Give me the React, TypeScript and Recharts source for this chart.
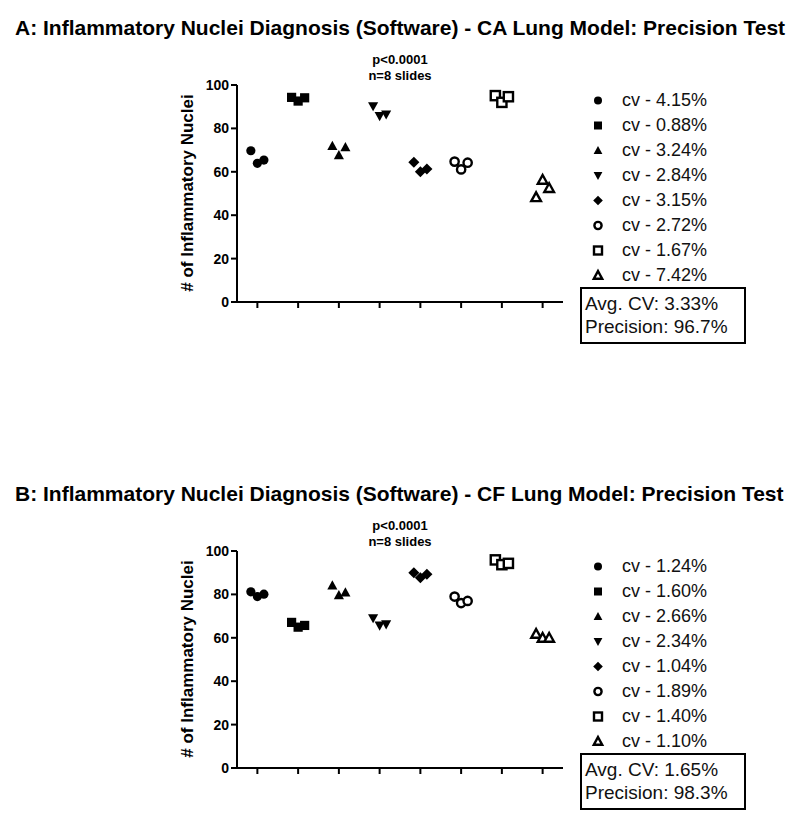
import React from 'react';
import { ScatterChart, Scatter, XAxis, YAxis } from 'recharts';

// marker order, one per sample group
const markerKinds = ['circle', 'square', 'triangle', 'triangleDown', 'diamond', 'openCircle', 'openSquare', 'openTriangle'];

// horizontal jitter of the three replicate reads within a group (category units)
const jitter = [-0.16, 0, 0.16];

// CA lung model: 3 reads per slide
const caValues = [
  [69.7, 63.9, 65.4],
  [94.3, 92.6, 94.1],
  [71.9, 67.6, 71.3],
  [90.3, 85.7, 86.5],
  [64.4, 60.0, 61.3],
  [64.7, 61.1, 64.2],
  [95.1, 92.0, 94.6],
  [48.2, 56.2, 52.4],
];
const caCv = ['4.15%', '0.88%', '3.24%', '2.84%', '3.15%', '2.72%', '1.67%', '7.42%'];
const caSummary = ['Avg. CV: 3.33%', 'Precision: 96.7%'];

// CF lung model
const cfValues = [
  [81.2, 79.0, 80.1],
  [67.1, 64.9, 65.7],
  [84.1, 79.6, 80.8],
  [69.1, 65.7, 66.3],
  [90.0, 87.7, 89.3],
  [79.0, 76.0, 77.0],
  [95.9, 93.7, 94.3],
  [61.7, 59.9, 59.9],
];
const cfCv = ['1.24%', '1.60%', '2.66%', '2.34%', '1.04%', '1.89%', '1.40%', '1.10%'];
const cfSummary = ['Avg. CV: 1.65%', 'Precision: 98.3%'];

const yTicks = [0, 20, 40, 60, 80, 100];
const xTicks = [1, 2, 3, 4, 5, 6, 7, 8];

const FONT = '"Liberation Sans", Arial, sans-serif';

function Marker({ kind, cx, cy, r = 4.6 }: { kind: string; cx: number; cy: number; r?: number }) {
  const sw = 2.4;
  switch (kind) {
    case 'circle':
      return <circle cx={cx} cy={cy} r={r} fill="#000" />;
    case 'square':
      return <rect x={cx - r} y={cy - r} width={r * 2} height={r * 2} fill="#000" />;
    case 'triangle':
      return (
        <polygon
          points={`${cx},${cy - r * 1.15} ${cx + r * 1.1},${cy + r * 0.85} ${cx - r * 1.1},${cy + r * 0.85}`}
          fill="#000"
        />
      );
    case 'triangleDown':
      return (
        <polygon
          points={`${cx},${cy + r * 1.15} ${cx + r * 1.1},${cy - r * 0.85} ${cx - r * 1.1},${cy - r * 0.85}`}
          fill="#000"
        />
      );
    case 'diamond':
      return (
        <polygon
          points={`${cx},${cy - r * 1.2} ${cx + r * 1.2},${cy} ${cx},${cy + r * 1.2} ${cx - r * 1.2},${cy}`}
          fill="#000"
        />
      );
    case 'openCircle':
      return <circle cx={cx} cy={cy} r={r * 0.9} fill="#fff" stroke="#000" strokeWidth={sw} />;
    case 'openSquare':
      return <rect x={cx - r} y={cy - r} width={r * 2} height={r * 2} fill="#fff" stroke="#000" strokeWidth={sw} />;
    case 'openTriangle':
      return (
        <polygon
          points={`${cx},${cy - r * 1.1} ${cx + r * 1.05},${cy + r * 0.8} ${cx - r * 1.05},${cy + r * 0.8}`}
          fill="#fff"
          stroke="#000"
          strokeWidth={sw}
          strokeLinejoin="miter"
        />
      );
    default:
      return null;
  }
}

function Panel({ top, title, values, cvs, summary }: { top: number; title: string; values: number[][]; cvs: string[]; summary: string[] }) {
  return (
    <div style={{ position: 'absolute', left: 0, top, width: 800, height: 466 }}>
      <div
        style={{
          position: 'absolute', left: 15, top: 17, fontSize: 21, lineHeight: 1,
          fontWeight: 700, fontFamily: FONT, whiteSpace: 'nowrap', color: '#000',
        }}
      >
        {title}
      </div>
      <div
        style={{
          position: 'absolute', left: 300, width: 200, top: 52, fontSize: 13, lineHeight: '16px',
          fontWeight: 700, fontFamily: FONT, textAlign: 'center', color: '#000',
        }}
      >
        <div>p&lt;0.0001</div>
        <div>n=8 slides</div>
      </div>
      <div
        style={{
          position: 'absolute', left: 188, top: 193, transform: 'translate(-50%, -50%) rotate(-90deg)',
          fontSize: 17, fontWeight: 700, fontFamily: FONT, whiteSpace: 'nowrap', color: '#000',
        }}
      >
        # of Inflammatory Nuclei
      </div>
      <div style={{ position: 'absolute', left: 0, top: 0 }}>
        <ScatterChart width={800} height={340} margin={{ top: 85, right: 237, bottom: 8, left: 177 }}>
          <XAxis
            type="number"
            dataKey="x"
            domain={[0.5, 8.5]}
            ticks={xTicks}
            tickFormatter={() => ''}
            tickSize={6}
            height={30}
            axisLine={{ stroke: '#000', strokeWidth: 2 }}
            tickLine={{ stroke: '#000', strokeWidth: 2 }}
            allowDataOverflow
          />
          <YAxis
            type="number"
            dataKey="y"
            domain={[0, 100]}
            ticks={yTicks}
            tickSize={6}
            width={60}
            axisLine={{ stroke: '#000', strokeWidth: 2 }}
            tickLine={{ stroke: '#000', strokeWidth: 2 }}
            tick={{ fill: '#000', fontSize: 14, fontWeight: 700, fontFamily: FONT }}
          />
          {values.map((group, i) => (
            <Scatter
              key={i}
              data={group.map((v, j) => ({ x: i + 1 + jitter[j], y: v }))}
              isAnimationActive={false}
              shape={(p: any) => <Marker kind={markerKinds[i]} cx={p.cx} cy={p.cy} />}
            />
          ))}
        </ScatterChart>
      </div>
      {cvs.map((cv, i) => (
        <div
          key={i}
          style={{
            position: 'absolute', left: 586, top: 88 + i * 25, height: 25, display: 'flex',
            alignItems: 'center', fontFamily: FONT, fontSize: 18, lineHeight: '25px', color: '#111',
          }}
        >
          <svg width={24} height={25} style={{ marginRight: 12 }}>
            <Marker kind={markerKinds[i]} cx={12} cy={12.5} r={4} />
          </svg>
          <span>cv - {cv}</span>
        </div>
      ))}
      <div
        style={{
          position: 'absolute', left: 580, top: 287, width: 159, height: 50, border: '2px solid #000',
          fontFamily: FONT, fontSize: 19, lineHeight: '23px', color: '#111', paddingLeft: 3, paddingTop: 3,
          boxSizing: 'content-box', whiteSpace: 'nowrap',
        }}
      >
        <div>{summary[0]}</div>
        <div>{summary[1]}</div>
      </div>
    </div>
  );
}

export default function App() {
  return (
    <div style={{ position: 'absolute', left: 0, top: 0, width: 800, height: 831, background: '#fff', overflow: 'hidden' }}>
      <Panel
        top={0}
        title="A: Inflammatory Nuclei Diagnosis (Software) - CA Lung Model: Precision Test"
        values={caValues}
        cvs={caCv}
        summary={caSummary}
      />
      <Panel
        top={466}
        title="B: Inflammatory Nuclei Diagnosis (Software) - CF Lung Model: Precision Test"
        values={cfValues}
        cvs={cfCv}
        summary={cfSummary}
      />
    </div>
  );
}
